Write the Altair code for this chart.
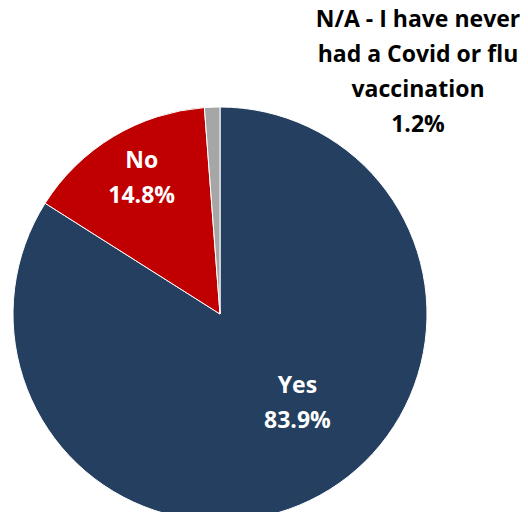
import altair as alt
import pandas as pd

categories = ["Yes", "No", "N/A - I have never had a Covid or flu vaccination"]
values = [83.9, 14.8, 1.2]
labels = ["Yes\n83.9%", "No\n14.8%", "N/A - I have never\nhad a Covid or flu\nvaccination\n1.2%"]
colors = ["#243F60", "#C00000", "#A6A6A6"]

df = pd.DataFrame({"cat": categories, "val": values, "label": labels, "ord": [0, 1, 2]})

cx, cy, R = 212, 306, 207

pie = alt.Chart(df).mark_arc(outerRadius=R, stroke="white", strokeWidth=1).encode(
    theta=alt.Theta("val:Q", stack=True),
    order=alt.Order("ord:Q"),
    x=alt.value(cx), y=alt.value(cy),
    color=alt.Color("cat:N", scale=alt.Scale(domain=categories, range=colors), legend=None),
)

lab = alt.Chart(df).transform_window(
    cum="sum(val)", sort=[alt.SortField("ord")], frame=[None, 0]
).transform_calculate(mid="datum.cum - datum.val / 2")

font = "Open Sans"
common = dict(font=font, fontWeight="bold", fontSize=23, lineBreak="\n",
              lineHeight=35, baseline="middle", align="center")

yes_t = lab.transform_filter(alt.datum.ord == 0).mark_text(
    radius=119, color="white", dx=20, dy=-32, **common
).encode(theta=alt.Theta("mid:Q", stack=None), x=alt.value(cx), y=alt.value(cy), text="label:N")

no_t = lab.transform_filter(alt.datum.ord == 1).mark_text(
    radius=158, color="white", dx=3, dy=-18, **common
).encode(theta=alt.Theta("mid:Q", stack=None), x=alt.value(cx), y=alt.value(cy), text="label:N")

na_t = alt.Chart(df).transform_filter(alt.datum.ord == 2).mark_text(
    color="black", **common
).encode(x=alt.value(410), y=alt.value(12), text="label:N")

chart = alt.layer(pie, yes_t, no_t, na_t).properties(
    width=512, height=504, padding=0, autosize=alt.AutoSizeParams(type="none")
).configure_view(stroke=None)

chart.save("out.html", embed_options={"renderer": "svg", "actions": False})
